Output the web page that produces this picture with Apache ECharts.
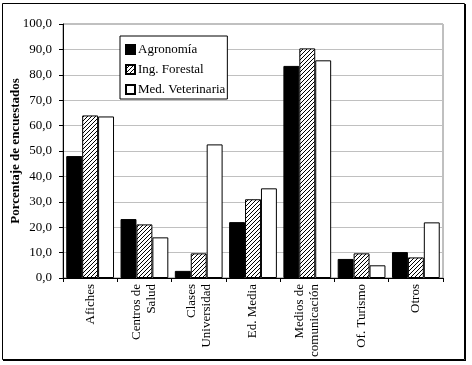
<!DOCTYPE html>
<html><head><meta charset="utf-8">
<script src="https://cdn.jsdelivr.net/npm/echarts@6/dist/echarts.min.js"></script>
<style>html,body{margin:0;padding:0;background:#fff}#c{width:472px;height:365px}</style>
</head><body><div id="c"></div>
<script>
const categories = ["Afiches", "Centros de\nSalud", "Clases\nUniversidad", "Ed. Media", "Medios de\ncomunicación", "Of. Turismo", "Otros"];
const seriesNames = ["Agronomía", "Ing. Forestal", "Med. Veterinaria"];
const agronomia = [48.0, 23.2, 2.8, 22.0, 83.5, 7.5, 10.2];
const ingForestal = [64.0, 21.1, 9.7, 31.0, 90.4, 9.7, 8.1];
const medVeterinaria = [63.6, 16.0, 52.6, 35.3, 85.7, 5.0, 21.9];
const yTicks = { min: 0, max: 100, interval: 10 };

// hatch pattern
const pc = document.createElement('canvas');
pc.width = 4; pc.height = 4;
const g = pc.getContext('2d');
g.fillStyle = '#fff'; g.fillRect(0, 0, 4, 4);
g.strokeStyle = '#000'; g.lineWidth = 1;
g.beginPath(); g.moveTo(0, 4); g.lineTo(4, 0); g.stroke();
g.beginPath(); g.moveTo(-1, 1); g.lineTo(1, -1); g.stroke();
g.beginPath(); g.moveTo(3, 5); g.lineTo(5, 3); g.stroke();

const font = '"Liberation Serif", serif';
const chart = echarts.init(document.getElementById('c'), null, { renderer: 'canvas' });
const mk = (name, data, color) => ({
  name, type: 'bar', data, barGap: '0%', barCategoryGap: '12%',
  itemStyle: { color, borderColor: '#000', borderWidth: 1 },
  emphasis: { disabled: true }
});
chart.setOption({
  animation: false,
  backgroundColor: '#fff',
  textStyle: { fontFamily: font },
  grid: { left: 63, right: 29, top: 24, bottom: 87, show: true, borderColor: '#808080', borderWidth: 1, containLabel: false, outerBoundsMode: 'none' },
  legend: {
    orient: 'vertical', left: 120, top: 36, data: seriesNames,
    backgroundColor: '#fff', borderColor: '#000', borderWidth: 1,
    padding: [7, 2, 3, 5], itemWidth: 9, itemHeight: 9, itemGap: 7,
    textStyle: { fontFamily: font, fontSize: 13, color: '#000', padding: [0, 0, 0, -2] },
    icon: 'rect'
  },
  xAxis: {
    type: 'category', data: categories,
    axisLine: { lineStyle: { color: '#000' } },
    axisTick: { show: true, length: 4, lineStyle: { color: '#000' } },
    axisLabel: { rotate: 90, margin: 6, fontFamily: font, fontSize: 13, color: '#000', lineHeight: 15, interval: 0, hideOverlap: false }
  },
  yAxis: {
    type: 'value', min: yTicks.min, max: yTicks.max, interval: yTicks.interval,
    name: 'Porcentaje de encuestados', nameLocation: 'middle', nameGap: 41, nameMoveOverlap: false,
    nameTextStyle: { fontFamily: font, fontSize: 13, fontWeight: 'bold', color: '#000' },
    axisLine: { show: true, lineStyle: { color: '#000' } },
    axisTick: { show: true, length: 4, lineStyle: { color: '#000' } },
    axisLabel: { margin: 11, fontFamily: font, fontSize: 13, color: '#000', formatter: v => v.toFixed(1).replace('.', ',') },
    splitLine: { lineStyle: { color: '#c0c0c0' } }
  },
  series: [
    mk(seriesNames[0], agronomia, '#000'),
    mk(seriesNames[1], ingForestal, { image: pc, repeat: 'repeat' }),
    mk(seriesNames[2], medVeterinaria, '#fff')
  ],
  graphic: [
    { type: 'rect', shape: { x: 2.5, y: 3.5, width: 462, height: 356 }, style: { fill: 'none', stroke: '#000', lineWidth: 1 }, silent: true },
    { type: 'line', shape: { x1: 465.5, y1: 4, x2: 465.5, y2: 361 }, style: { stroke: '#000', lineWidth: 1 }, silent: true },
    { type: 'line', shape: { x1: 3, y1: 360.5, x2: 466, y2: 360.5 }, style: { stroke: '#000', lineWidth: 1 }, silent: true }
  ]
});
</script></body></html>
